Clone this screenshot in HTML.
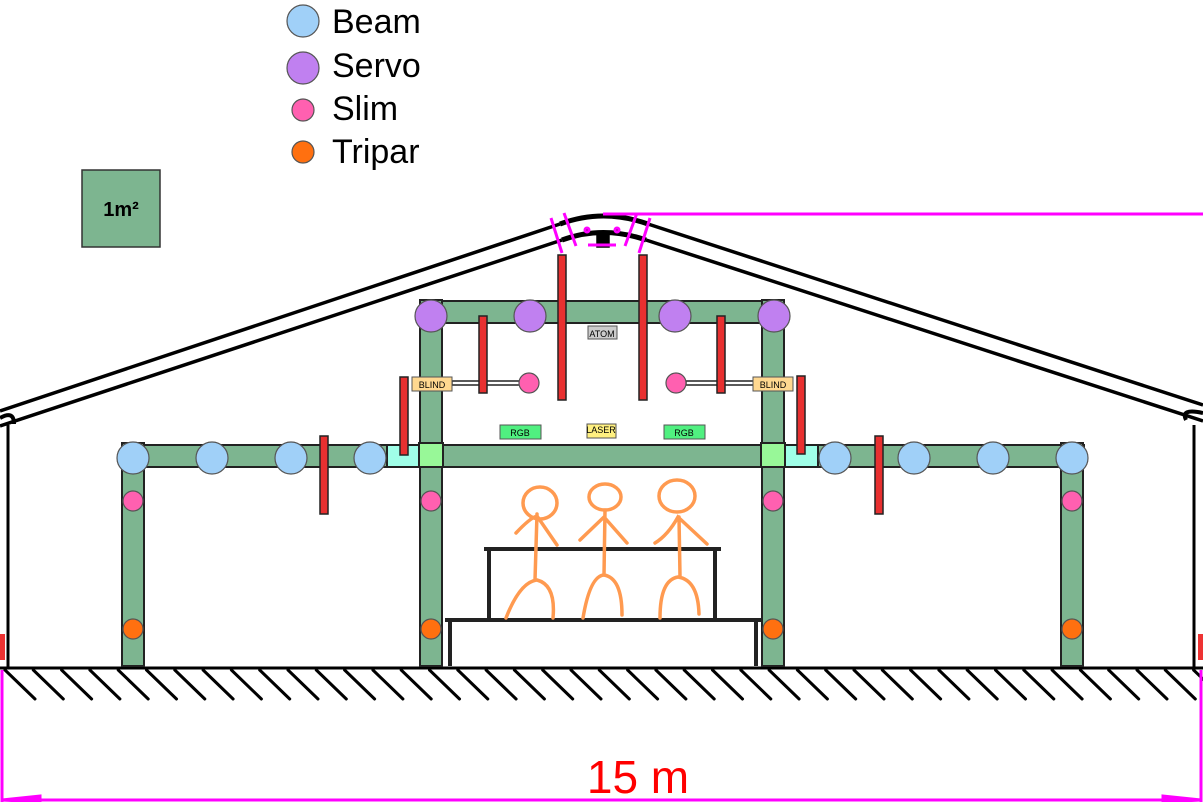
<!DOCTYPE html>
<html><head><meta charset="utf-8"><style>
html,body{margin:0;padding:0;background:#fff;}
svg{display:block;font-family:"Liberation Sans",sans-serif;}
</style></head><body>
<svg width="1203" height="802" viewBox="0 0 1203 802">
<!-- legend -->
<g font-size="34" fill="#000">
 <g><circle cx="303" cy="21" r="16" fill="#a0d0f8" stroke="#555" stroke-width="1.2"/><text x="332" y="33">Beam</text></g>
 <g><circle cx="303" cy="68" r="16" fill="#c080f0" stroke="#555" stroke-width="1.2"/><text x="332" y="77">Servo</text></g>
 <g><circle cx="303" cy="110" r="11" fill="#ff60b0" stroke="#555" stroke-width="1.2"/><text x="332" y="120">Slim</text></g>
 <g><circle cx="303" cy="152" r="11" fill="#ff7010" stroke="#555" stroke-width="1.2"/><text x="332" y="163">Tripar</text></g>
</g>
<g><rect x="82" y="170" width="78" height="77" fill="#7db590" stroke="#333" stroke-width="1.5"/><text x="121" y="216" font-size="20" font-weight="bold" text-anchor="middle">1m²</text></g>

<!-- roof -->
<g stroke="#000" stroke-width="3.5" fill="none">
 <line x1="0" y1="411" x2="560" y2="224"/><line x1="0" y1="426" x2="562" y2="240"/>
 <line x1="648" y1="224" x2="1203" y2="405"/><line x1="646" y1="240" x2="1203" y2="421"/>
 <path d="M560 224 Q603 208 648 224" stroke-width="5"/><path d="M562 240 Q603 225 646 240" stroke-width="5"/>
 <rect x="598" y="236" width="10" height="10" fill="#000"/>
 <path d="M0 418 Q14 410 14 424" stroke-width="4"/><path d="M1203 413 Q1180 408 1186 420" stroke-width="4"/>
</g>
<g stroke="#ff00ff" stroke-width="3">
 <line x1="603" y1="214" x2="1203" y2="214"/>
 <line x1="551" y1="218" x2="562" y2="253"/><line x1="564" y1="213" x2="576" y2="246"/>
 <line x1="650" y1="218" x2="639" y2="253"/><line x1="637" y1="213" x2="625" y2="246"/>
 <line x1="588" y1="245" x2="616" y2="245"/><circle cx="587" cy="230" r="2"/><circle cx="617" cy="230" r="2"/>
</g>
<!-- walls -->
<g stroke="#000" stroke-width="3">
 <line x1="8" y1="425" x2="8" y2="668"/><line x1="1194" y1="425" x2="1194" y2="668"/>
</g>
<rect x="0" y="634" width="5" height="26" fill="#e33"/>
<rect x="1198" y="634" width="5" height="26" fill="#e33"/>
<!-- ground -->
<g stroke="#000" stroke-width="3" stroke-linecap="round">
 <line x1="0" y1="668" x2="1203" y2="668"/>
 <g id="hatch"></g>
</g>
<!-- dimension -->
<g stroke="#ff00ff" stroke-width="3">
 <line x1="2" y1="670" x2="2" y2="802"/><line x1="1201" y1="670" x2="1201" y2="802"/>
 <line x1="2" y1="800" x2="1201" y2="800"/>
 <polygon points="2,800 40,796 40,802" fill="#ff00ff"/><polygon points="1201,800 1163,796 1163,802" fill="#ff00ff"/>
</g>
<text x="638" y="793" font-size="46" fill="#f00" text-anchor="middle">15 m</text>

<!-- truss -->
<g fill="#7db590" stroke="#222" stroke-width="2">
 <rect x="122" y="445" width="962" height="22"/>
 <rect x="122" y="443" width="22" height="223"/>
 <rect x="1061" y="443" width="22" height="223"/>
 <rect x="420" y="301" width="364" height="22"/>
 <rect x="420" y="300" width="22" height="366"/>
 <rect x="762" y="300" width="22" height="366"/>
 <rect x="387" y="445" width="33" height="22" fill="#a0ffe8"/>
 <rect x="784" y="445" width="34" height="22" fill="#a0ffe8"/>
 <rect x="419" y="443" width="24" height="24" fill="#98f898"/>
 <rect x="761" y="443" width="24" height="24" fill="#98f898"/>
</g>
<!-- stage -->
<g stroke="#222" stroke-width="4">
 <line x1="484" y1="549" x2="721" y2="549"/><line x1="489" y1="549" x2="489" y2="619"/><line x1="715" y1="549" x2="715" y2="619"/>
 <line x1="445" y1="620" x2="762" y2="620"/><line x1="450" y1="620" x2="450" y2="666"/><line x1="756" y1="620" x2="756" y2="666"/>
</g>
<g stroke="#ff9a50" stroke-width="3.5" fill="none" stroke-linecap="round">
 <ellipse cx="540" cy="503" rx="17" ry="16"/><path d="M537 514 L535 580 M516 533 Q530 518 537 516 L557 545 M506 618 Q520 582 537 580 Q556 585 553 618"/>
 <ellipse cx="605" cy="497" rx="16" ry="13"/><path d="M605 510 L604 575 M580 540 L604 517 L627 543 M583 618 Q590 576 604 575 Q622 578 622 615"/>
 <ellipse cx="677" cy="496" rx="18" ry="16"/><path d="M679 517 L680 576 M655 543 Q668 535 678 517 L707 544 M660 618 Q660 580 678 577 Q698 580 699 614"/>
</g>

<!-- rods -->
<g stroke="#222" stroke-width="1.5" fill="#fff">
 <rect x="452" y="381" width="70" height="4"/><rect x="686" y="381" width="68" height="4"/>
</g>
<!-- labels -->
<g font-size="9" text-anchor="middle" stroke-width="1">
 <g><rect x="412" y="377" width="40" height="14" fill="#ffd890" stroke="#555"/><text x="432" y="388">BLIND</text></g>
 <g><rect x="753" y="377" width="40" height="14" fill="#ffd890" stroke="#555"/><text x="773" y="388">BLIND</text></g>
 <g><rect x="588" y="326" width="29" height="13" fill="#ccc" stroke="#555"/><text x="602" y="337">ATOM</text></g>
 <g><rect x="500" y="425" width="41" height="14" fill="#50f080" stroke="#555"/><text x="520" y="436">RGB</text></g>
 <g><rect x="664" y="425" width="41" height="14" fill="#50f080" stroke="#555"/><text x="684" y="436">RGB</text></g>
 <g><rect x="587" y="424" width="29" height="14" fill="#fff080" stroke="#555"/><text x="601" y="433">LASER</text></g>
</g>
<!-- red bars -->
<g fill="#e83030" stroke="#222" stroke-width="1.5" id="redbars"></g>
<!-- fixtures -->
<g id="fixtures" stroke="#555" stroke-width="1.2"></g>

<script>
const beamX=[133,212,291,370,835,914,993,1072];
const servoX=[431,530,675,774];
const slimPts=[[133,501],[431,501],[773,501],[1072,501],[529,383],[676,383]];
const triparX=[133,431,773,1072];
const barRects=[[324,436,514],[562,255,400],[643,255,400],[483,316,393],[721,316,393],[404,377,455],[801,376,454],[879,436,514]];
const NS='http://www.w3.org/2000/svg';
const fx=document.getElementById('fixtures');
function circ(x,y,r,fill,name){const c=document.createElementNS(NS,'circle');c.setAttribute('cx',x);c.setAttribute('cy',y);c.setAttribute('r',r);c.setAttribute('fill',fill);


fx.appendChild(c);}
const rb=document.getElementById('redbars');
barRects.forEach(b=>{const r=document.createElementNS(NS,'rect');r.setAttribute('x',b[0]-4);r.setAttribute('y',b[1]);r.setAttribute('width',8);r.setAttribute('height',b[2]-b[1]);


rb.appendChild(r);});
beamX.forEach(x=>circ(x,458,16,'#a0d0f8','beam-light'));
servoX.forEach(x=>circ(x,316,16,'#c080f0','servo-light'));
slimPts.forEach(p=>circ(p[0],p[1],10,'#ff60b0','slim-light'));
triparX.forEach(x=>circ(x,629,10,'#ff7010','tripar-light'));
const h=document.getElementById('hatch');
for(let x=5;x<1203;x+=28.3){const l=document.createElementNS(NS,'line');l.setAttribute('x1',x);l.setAttribute('y1',670);l.setAttribute('x2',x+30);l.setAttribute('y2',699);


h.appendChild(l);}
</script>
</svg>
</body></html>
